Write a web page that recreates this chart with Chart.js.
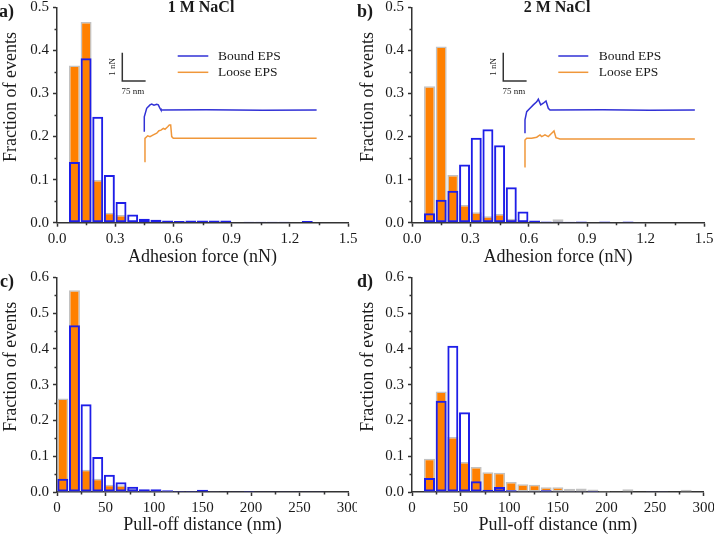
<!DOCTYPE html>
<html><head><meta charset="utf-8">
<script src="https://cdn.jsdelivr.net/npm/chart.js@4.4.1/dist/chart.umd.min.js"></script>
<style>
html,body{margin:0;padding:0;background:#fff;}
body{width:714px;height:536px;position:relative;overflow:hidden;}
.p{position:absolute;width:357px;height:268px;}
canvas{display:block;}
</style></head><body>
<div class="p" style="left:0;top:0"><canvas id="ca" width="357" height="268"></canvas></div>
<div class="p" style="left:357px;top:0"><canvas id="cb" width="357" height="268"></canvas></div>
<div class="p" style="left:0;top:268px"><canvas id="cc" width="357" height="268"></canvas></div>
<div class="p" style="left:357px;top:268px"><canvas id="cd" width="357" height="268"></canvas></div>
<script>
// ---------- data ----------
const forceBins = [0.09,0.15,0.21,0.27,0.33,0.39,0.45,0.51,0.57,0.63,0.69,0.75,0.81,0.87,0.93,0.99,1.05,1.11,1.17,1.23,1.29];
const distBins  = [6,18,30,42,54,66,78,90,102,114,126,138,150,162,174,186,198,210,222,234,246,258,270,282];

const boundForce1M = [0.141,0.382,0.246,0.111,0.048,0.019,0.009,0.007,0.005,0.004,0.005,0.005,0.005,0.005,0.001,0.002,0.002,0.002,0.002,0.001,0.004];
const looseForce1M = [0.365,0.466,0.099,0.023,0.018,0.003,0.005,0.007,0.002,0.002,0.002,0.001,0.002,0.001,0,0,0,0,0,0,0];
const boundForce2M = [0.022,0.053,0.074,0.135,0.197,0.217,0.180,0.082,0.026,0.005,0.003,0.002,0.002,0.003,0.001,0.003,0.001,0.003,0,0,0];
const looseForce2M = [0.317,0.409,0.111,0.041,0.024,0.015,0.020,0.009,0.005,0.002,0.001,0.008,0.001,0,0,0,0,0,0,0,0];

const boundDist1M = [0.037,0.466,0.245,0.098,0.048,0.027,0.015,0.008,0.008,0.005,0.003,0.003,0.006,0.002,0.002,0.002,0.003,0.001,0.001,0.001,0.002,0.001,0.001,0];
const looseDist1M = [0.261,0.564,0.062,0.037,0.020,0.019,0.009,0.006,0.005,0.003,0.002,0.001,0.001,0.001,0,0,0,0,0,0,0,0,0,0];
const boundDist2M = [0,0.039,0.255,0.409,0.223,0.030,0.006,0.014,0.005,0.001,0.001,0.005,0.001,0.002,0.001,0.003,0,0,0,0,0.001,0.001,0,0];
const looseDist2M = [0,0.093,0.281,0.154,0.084,0.070,0.055,0.054,0.028,0.022,0.020,0.013,0.013,0.009,0.010,0.007,0.003,0.001,0.008,0,0.001,0.001,0,0.006];

// inset force curves: [distance (nm), force (nN, offset for display)]
const boundCurve1M = [[0,-0.77],[0,-0.24],[7.7,0.06],[18.3,0.18],[23.8,0.21],[31.2,0.17],[39.9,0.20],[45,0.18],[50.5,0.06],[53.7,0],[200,0.005],[380,-0.005],[554,0]];
const looseCurve1M = [[0,-1.82],[2.2,-1.0],[10.9,-0.91],[18.3,-0.94],[28.9,-0.88],[39.9,-0.82],[47.2,-0.73],[53.7,-0.71],[61.1,-0.65],[66.5,-0.68],[75.2,-0.59],[80.4,-0.53],[84.8,-0.53],[88.1,-0.94],[93.2,-1.0],[300,-1.0],[554,-1.0]];
const boundCurve2M = [[0,-0.82],[0,-0.35],[5.5,-0.06],[16.1,0.06],[26.7,0.18],[37.6,0.29],[42.8,0.38],[50.5,0.18],[58.8,0.24],[67.5,0.32],[74.9,0.06],[80.4,0],[250,0.005],[400,-0.005],[546,0]];
const looseCurve2M = [[-2.2,-2.0],[0,-1.06],[5.5,-1.0],[21.5,-1.0],[37.6,-0.96],[48.2,-0.88],[53.7,-0.94],[64.3,-0.88],[74.9,-0.94],[85.8,-0.82],[93.2,-0.74],[99.6,-0.98],[112.5,-1.02],[546,-1.02]];
const scaleBar1M = [[-70.7,2.02],[-70.7,1.02],[4.3,1.02]];
const scaleBar2M = [[-69.8,2.02],[-69.8,1.02],[5.2,1.02]];

const forceTicks = [0,0.3,0.6,0.9,1.2,1.5];
const distTicks  = [0,50,100,150,200,250,300];
const fracTicksTop = [0,0.1,0.2,0.3,0.4,0.5];
const fracTicksBottom = [0,0.1,0.2,0.3,0.4,0.5,0.6];

const seriesNames = ['Bound EPS','Loose EPS'];

// ---------- style ----------
const AX = '#333333';
const TXT = '#1a1a1a';
const BLUE = '#1e1ee8';
const ORANGE = '#ff8000';
const GRAYB = '#c2c2c2';
const CBLUE = '#3131d6';
const CORANGE = '#f0973a';
const SERIF = "'Liberation Serif','Times New Roman',serif";

function pts(xs, ys){ return xs.map((x,i)=>({x:x, y:ys[i]})); }
function pairs(a){ return a.map(p=>({x:p[0], y:p[1]})); }

const decor = {
  id:'decor',
  afterDraw(chart, args, o){
    const ctx = chart.ctx, xs = chart.scales.x, ys = chart.scales.y;
    const ca = chart.chartArea;
    ctx.save();
    // minor ticks
    ctx.strokeStyle = AX; ctx.lineWidth = 1.5;
    const xt = xs.ticks.map(t=>t.value), yt = ys.ticks.map(t=>t.value);
    ctx.beginPath();
    for (let i=0;i<xt.length-1;i++){
      const px = Math.round(xs.getPixelForValue((xt[i]+xt[i+1])/2))+0.5;
      ctx.moveTo(px, ca.bottom); ctx.lineTo(px, ca.bottom+2.5);
    }
    for (let i=0;i<yt.length-1;i++){
      const py = Math.round(ys.getPixelForValue((yt[i]+yt[i+1])/2))+0.5;
      ctx.moveTo(ca.left, py); ctx.lineTo(ca.left-2.5, py);
    }
    ctx.stroke();
    // panel label
    ctx.fillStyle = TXT;
    ctx.textAlign = 'left'; ctx.textBaseline = 'alphabetic';
    ctx.font = `bold 18px ${SERIF}`;
    ctx.fillText(o.label, o.labelX, o.labelY);
    if (o.title){
      ctx.font = `bold 16px ${SERIF}`;
      ctx.textAlign = 'center';
      ctx.fillText(o.title, o.titleX, o.titleY);
    }
    if (o.legend){
      const L = o.legend;
      ctx.lineWidth = 1.5;
      [[CBLUE, L.y1, seriesNames[0]],[CORANGE, L.y2, seriesNames[1]]].forEach(r=>{
        ctx.strokeStyle = r[0];
        ctx.beginPath(); ctx.moveTo(L.x1, r[1]); ctx.lineTo(L.x2, r[1]); ctx.stroke();
        ctx.fillStyle = TXT;
        ctx.font = `13.5px ${SERIF}`;
        ctx.textAlign = 'left'; ctx.textBaseline = 'middle';
        ctx.fillText(r[2], L.tx, r[1]+0.5);
      });
    }
    if (o.bar){
      const xi = chart.scales.xi, yi = chart.scales.yi, b = o.bar;
      const bx = xi.getPixelForValue(b[0][0]);
      const byTop = yi.getPixelForValue(b[0][1]);
      const byBot = yi.getPixelForValue(b[1][1]);
      const bxR = xi.getPixelForValue(b[2][0]);
      ctx.fillStyle = TXT;
      ctx.font = `9px ${SERIF}`;
      ctx.textAlign = 'center'; ctx.textBaseline = 'middle';
      ctx.fillText('75 nm', (bx+bxR)/2 - 1, byBot + 10.5);
      ctx.save();
      ctx.translate(bx - 10, (byTop+byBot)/2);
      ctx.rotate(-Math.PI/2);
      ctx.fillText('1 nN', 0, 0);
      ctx.restore();
    }
    ctx.restore();
  }
};

function makePanel(id, c){
  const W = 357, H = 268, A = c.area;
  const tickFont = {family: SERIF, size: 15, lineHeight: 1};
  const titleFont = {family: SERIF, size: 18, lineHeight: 1.2};
  const datasets = [];
  if (c.curves){
    c.curves.forEach(cv=>{
      datasets.push({type:'line', data: pairs(cv.data), xAxisID:'xi', yAxisID:'yi',
        borderColor: cv.color, borderWidth: cv.width, pointRadius:0, fill:false, tension:0});
    });
  }
  datasets.push({type:'bar', label: seriesNames[0], data: pts(c.bins, c.bound), xAxisID:'x', yAxisID:'y',
    backgroundColor:'rgba(0,0,0,0)', borderColor: BLUE, borderWidth: 2, borderSkipped:false,
    grouped:false, barPercentage:0.94, categoryPercentage:1});
  datasets.push({type:'bar', label: seriesNames[1], data: pts(c.bins, c.loose), xAxisID:'x', yAxisID:'y',
    backgroundColor: ORANGE, borderColor: GRAYB, borderWidth: 1.5, borderSkipped:false,
    grouped:false, barPercentage:0.94, categoryPercentage:1});

  const scales = {
    x: {type:'linear', axis:'x', position:'bottom', min: c.xTicks[0], max: c.xTicks[c.xTicks.length-1], offset:false,
      afterFit(s){ s.height = H - A.b; s.paddingLeft = 0; s.paddingRight = 0; },
      afterBuildTicks(s){ s.ticks = c.xTicks.map(v=>({value:v})); },
      ticks:{font: tickFont, color: TXT, padding: 5, maxRotation:0, autoSkip:false, callback: c.xFmt},
      grid:{display:true, drawOnChartArea:false, drawTicks:true, tickLength:4, tickColor:AX, tickWidth:1.5, offset:false},
      border:{display:true, color:AX, width:1.5},
      title:{display:true, text:c.xTitle, font:titleFont, color:TXT, padding:0}
    },
    y: {type:'linear', axis:'y', position:'left', min:0, max: c.yTicks[c.yTicks.length-1], offset:false,
      afterFit(s){ s.width = A.l; s.paddingTop = 0; s.paddingBottom = 0; },
      afterBuildTicks(s){ s.ticks = c.yTicks.map(v=>({value:v})); },
      ticks:{font: tickFont, color: TXT, padding: 4, autoSkip:false, callback: v=>Number(v).toFixed(1)},
      grid:{display:true, drawOnChartArea:false, drawTicks:true, tickLength:4, tickColor:AX, tickWidth:1.5},
      border:{display:true, color:AX, width:1.5},
      title:{display:true, text:'        Fraction of events', font:titleFont, color:TXT, padding:0}
    }
  };
  if (c.curves){
    scales.xi = {type:'linear', axis:'x', position:'top', display:false, offset:false, grace:0, min:c.xi[0], max:c.xi[1],
      afterFit(s){ s.paddingLeft = 0; s.paddingRight = 0; }};
    scales.yi = {type:'linear', axis:'y', position:'right', display:false, offset:false, grace:0, min:c.yi[0], max:c.yi[1],
      afterFit(s){ s.paddingTop = 0; s.paddingBottom = 0; }};
  }
  new Chart(document.getElementById(id), {
    type:'bar',
    data:{datasets},
    options:{
      responsive:false, animation:false, devicePixelRatio:1,
      layout:{padding:{left:0, right: W - A.r, top: A.t, bottom:0}},
      plugins:{legend:{display:false}, tooltip:{enabled:false}, decor: c.decor},
      scales
    },
    plugins:[decor]
  });
}

const fmt1 = v=>Number(v).toFixed(1);
const fmt0 = v=>String(v);

makePanel('ca', {
  area:{l:57, r:348, t:7.3, b:222.7},
  bins: forceBins, bound: boundForce1M, loose: looseForce1M,
  xTicks: forceTicks, yTicks: fracTicksTop, xFmt: fmt1, xTitle:'Adhesion force (nN)',
  curves:[{data: boundCurve1M, color:CBLUE, width:1.5},{data: looseCurve1M, color:CORANGE, width:1.5},{data: scaleBar1M, color:AX, width:1.5}],
  xi:[-280.6, 654.8], yi:[-3.978, 3.625],
  decor:{label:'a)', labelX:-1, labelY:17, title:'1 M NaCl', titleX:201, titleY:12,
    legend:{x1:177.7, x2:208.3, tx:218, y1:56, y2:72.3}, bar: scaleBar1M}
});
makePanel('cb', {
  area:{l:55, r:347, t:7.3, b:222.7},
  bins: forceBins, bound: boundForce2M, loose: looseForce2M,
  xTicks: forceTicks, yTicks: fracTicksTop, xFmt: fmt1, xTitle:'Adhesion force (nN)',
  curves:[{data: boundCurve2M, color:CBLUE, width:1.5},{data: looseCurve2M, color:CORANGE, width:1.5},{data: scaleBar2M, color:AX, width:1.5}],
  xi:[-363.2, 575.4], yi:[-3.978, 3.625],
  decor:{label:'b)', labelX:0, labelY:17, title:'2 M NaCl', titleX:200, titleY:12,
    legend:{x1:201.3, x2:231.3, tx:241.7, y1:56, y2:72.3}, bar: scaleBar2M}
});
makePanel('cc', {
  area:{l:57, r:348, t:9.3, b:224},
  bins: distBins, bound: boundDist1M, loose: looseDist1M,
  xTicks: distTicks, yTicks: fracTicksBottom, xFmt: fmt0, xTitle:'Pull-off distance (nm)',
  decor:{label:'c)', labelX:0, labelY:19}
});
makePanel('cd', {
  area:{l:55, r:346.7, t:9.3, b:224},
  bins: distBins, bound: boundDist2M, loose: looseDist2M,
  xTicks: distTicks, yTicks: fracTicksBottom, xFmt: fmt0, xTitle:'Pull-off distance (nm)',
  decor:{label:'d)', labelX:0, labelY:19}
});
</script>
</body></html>
